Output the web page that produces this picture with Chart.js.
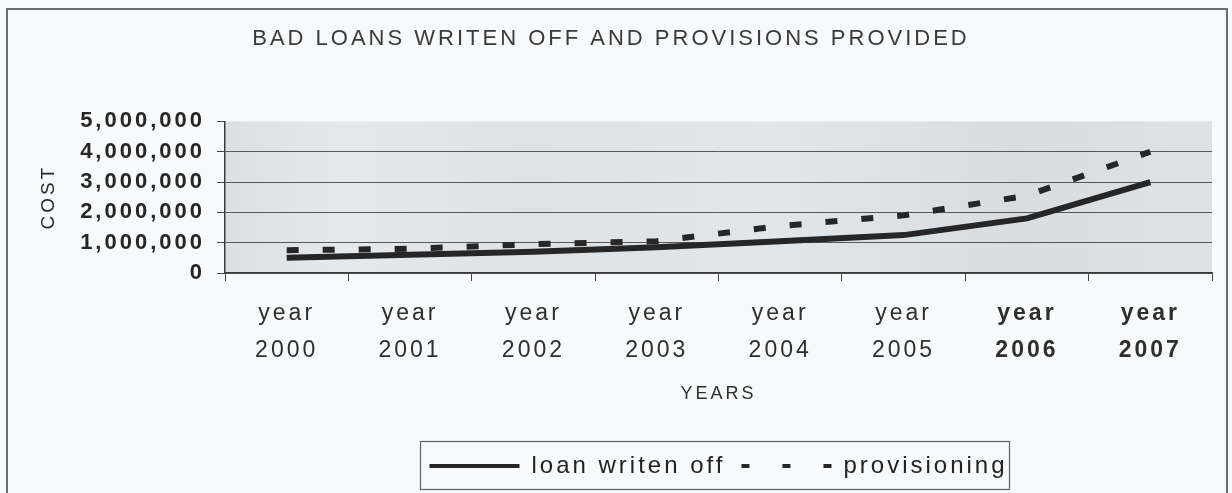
<!DOCTYPE html>
<html>
<head>
<meta charset="utf-8">
<script src="https://cdn.jsdelivr.net/npm/chart.js@4/dist/chart.umd.min.js"></script>
<style>
  html, body { margin: 0; padding: 0; background: #f7f9fa; overflow: hidden; }
  #wrap { position: relative; width: 1232px; height: 493px; }
  #frame { position: absolute; left: 6px; top: 8px; width: 1222px; height: 540px;
           border: 2px solid #6b6d6f; box-sizing: border-box; pointer-events: none; }
  canvas { position: absolute; left: 0; top: 0; }
</style>
</head>
<body>
<div id="wrap">
  <canvas id="chart" width="1232" height="493"></canvas>
  <div id="frame"></div>
</div>
<script>
// Figures per year
const years = ['2000', '2001', '2002', '2003', '2004', '2005', '2006', '2007'];
const tickLabels = years.map(y => ['year', y]);
const loanWrittenOff = [500000, 600000, 700000, 850000, 1050000, 1250000, 1800000, 3000000];
const provisioning = [750000, 800000, 950000, 1050000, 1550000, 1900000, 2550000, 4000000];
const costTicks = [0, 1000000, 2000000, 3000000, 4000000, 5000000];

const FONT = 'Liberation Sans';
const INK = '#262626';

// Wide, spaced lettering used for every text run on the canvas
const spacing = {
  id: 'spacing',
  beforeLayout(chart) { chart.ctx.letterSpacing = '3px'; },
  beforeDraw(chart) { chart.ctx.letterSpacing = '3px'; }
};

// Grey fill behind the plot
const plotFill = {
  id: 'plotFill',
  beforeDraw(chart) {
    const { ctx, chartArea: a } = chart;
    const g = ctx.createLinearGradient(a.left, 0, a.right, 0);
    g.addColorStop(0, '#dcdfe2');
    g.addColorStop(0.12, '#e6e9ec');
    g.addColorStop(0.3, '#dfe2e5');
    g.addColorStop(0.55, '#e3e6e9');
    g.addColorStop(0.8, '#dadde0');
    g.addColorStop(1, '#dfe2e5');
    ctx.save();
    ctx.fillStyle = g;
    ctx.fillRect(a.left, a.top, a.right - a.left, a.bottom - a.top);
    ctx.restore();
  }
};

// Outline round the legend entries
const legendFrame = {
  id: 'legendFrame',
  afterDraw(chart) {
    const lg = chart.legend;
    if (!lg || !lg.legendHitBoxes || !lg.legendHitBoxes.length) return;
    const boxes = lg.legendHitBoxes;
    const x0 = Math.min(...boxes.map(b => b.left)) - 9;
    const x1 = Math.max(...boxes.map(b => b.left + b.width)) + 2;
    const y0 = lg.top + 3;
    const y1 = lg.bottom + 1;
    const ctx = chart.ctx;
    ctx.save();
    ctx.strokeStyle = '#5f6366';
    ctx.lineWidth = 1.2;
    ctx.strokeRect(Math.round(x0) + 0.5, Math.round(y0) + 0.5,
                   Math.round(x1 - x0), Math.round(y1 - y0));
    ctx.restore();
  }
};

new Chart(document.getElementById('chart'), {
  type: 'line',
  data: {
    labels: tickLabels,
    datasets: [
      {
        label: 'loan writen off',
        data: loanWrittenOff,
        borderColor: INK,
        backgroundColor: INK,
        borderWidth: 6,
        pointRadius: 0,
        tension: 0,
        fill: false
      },
      {
        label: 'provisioning',
        data: provisioning,
        borderColor: INK,
        backgroundColor: INK,
        borderWidth: 6,
        borderDash: [12, 24],
        pointRadius: 0,
        tension: 0,
        fill: false
      }
    ]
  },
  options: {
    responsive: false,
    animation: false,
    devicePixelRatio: 1,
    layout: { padding: { left: 10, right: 20, top: 0, bottom: 5 } },
    plugins: {
      tooltip: { enabled: false },
      title: {
        display: true,
        text: 'BAD LOANS WRITEN OFF AND PROVISIONS PROVIDED',
        color: '#3a3a3a',
        font: { family: FONT, size: 22, weight: 'normal', lineHeight: 1.2 },
        padding: { top: 26, bottom: 69 }
      },
      legend: {
        position: 'bottom',
        fullSize: false,
        labels: {
          usePointStyle: true,
          pointStyle: 'line',
          pointStyleWidth: 90,
          padding: 16,
          color: '#222',
          font: { family: FONT, size: 24 },
          generateLabels(chart) {
            const items = Chart.defaults.plugins.legend.labels.generateLabels(chart);
            return items.map((it, i) => Object.assign(it, {
              pointStyle: 'line',
              lineWidth: 4,
              lineDash: i === 1 ? [8, 33] : []
            }));
          }
        }
      }
    },
    scales: {
      x: {
        offset: true,
        afterFit(scale) { scale.height = 165; },
        border: { display: true, color: '#3a3a3a', width: 1.5 },
        grid: { offset: true, drawOnChartArea: false, tickLength: 8, color: '#444' },
        ticks: {
          autoSkip: false,
          maxRotation: 0,
          padding: 14,
          color: '#2e2e2e',
          font: (ctx) => ({
            family: FONT, size: 23, lineHeight: 1.6,
            weight: ctx.index >= 6 ? 'bold' : 'normal'
          })
        },
        title: {
          display: true,
          text: 'YEARS',
          color: '#2e2e2e',
          font: { family: FONT, size: 18, lineHeight: 1.2 },
          padding: { top: 15, bottom: 33 }
        }
      },
      y: {
        min: 0,
        max: 5000000,
        afterFit(scale) { scale.width = 215; },
        afterBuildTicks(scale) { scale.ticks = costTicks.map(v => ({ value: v })); },
        border: { display: true, color: '#3a3a3a', width: 1.5 },
        grid: {
          tickLength: 8,
          lineWidth: 1,
          tickColor: '#444',
          color: (ctx) => (ctx.tick && ctx.tick.value === 5000000) ? 'rgba(0,0,0,0)' : '#55595c'
        },
        ticks: {
          padding: 12,
          color: '#262626',
          font: { family: FONT, size: 22, weight: 'bold' },
          callback: (v) => Number(v).toLocaleString('en-US')
        },
        title: {
          display: true,
          text: 'COST',
          color: '#262626',
          font: { family: FONT, size: 19, lineHeight: 1.2 },
          padding: { top: 27, bottom: 18 }
        }
      }
    }
  },
  plugins: [spacing, plotFill, legendFrame]
});
</script>
</body>
</html>
